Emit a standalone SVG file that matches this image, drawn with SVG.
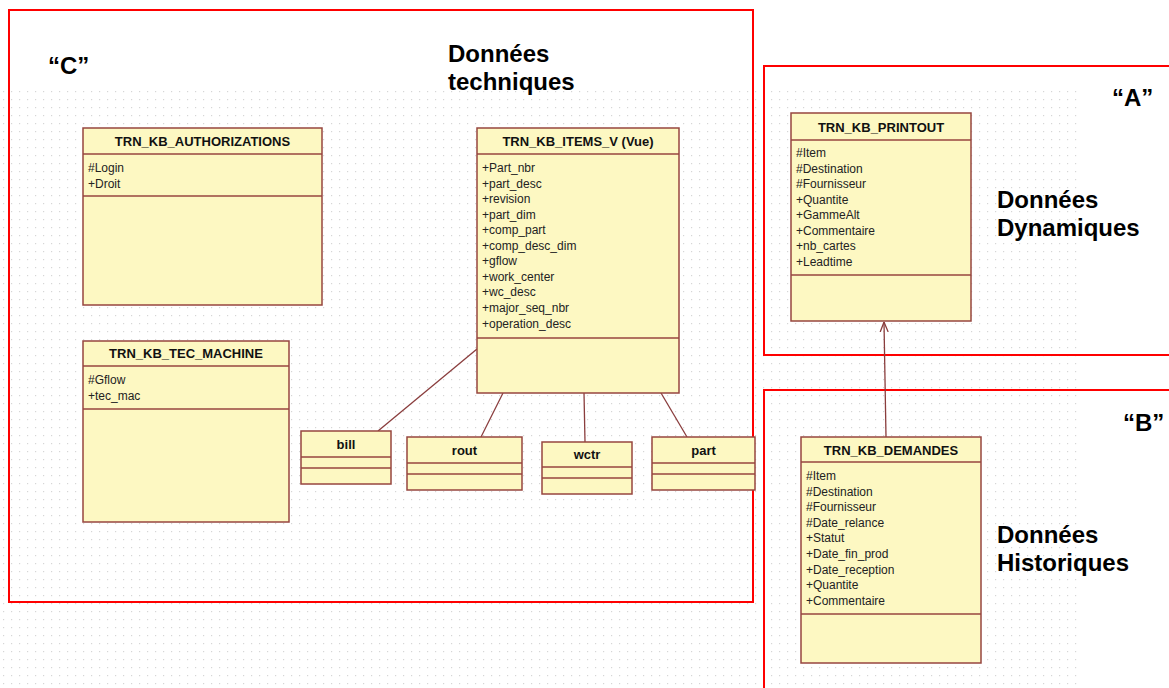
<svg xmlns="http://www.w3.org/2000/svg" width="1169" height="688" viewBox="0 0 1169 688">
<style>
.box{fill:#fdf8c2;stroke:#97463f;stroke-width:1.5}
.div{stroke:#97463f;stroke-width:1.5;fill:none}
.hdr{font-family:"Liberation Sans",Arial,sans-serif;font-weight:bold;font-size:13px;fill:#111;text-anchor:middle}
.att{font-family:"Liberation Sans",Arial,sans-serif;font-size:12px;fill:#222}
.big{font-family:"Liberation Sans",Arial,sans-serif;font-weight:bold;font-size:24px;fill:#000}
.frame{fill:none;stroke:#ff0000;stroke-width:2}
.conn{stroke:#8a3d3d;stroke-width:1.3;fill:none}
</style>
<defs>
<pattern id="grid" x="0" y="88" width="8" height="8" patternUnits="userSpaceOnUse">
<rect x="3" y="3" width="1.2" height="1.2" fill="#d6d6d6"/>
</pattern>
<marker id="open" viewBox="0 0 10 10" refX="10" refY="5" markerWidth="10" markerHeight="10" markerUnits="userSpaceOnUse" orient="auto">
<path d="M0,1 L10,5 L0,9" fill="none" stroke="#8a3d3d" stroke-width="1.3"/>
</marker>
</defs>
<rect x="0" y="0" width="1169" height="688" fill="#ffffff"/>
<rect x="0" y="88" width="1082" height="600" fill="url(#grid)"/>
<g id="frames">
<rect class="frame" x="9" y="10" width="744" height="592"/>
<path class="frame" d="M1170,66 H764 V355 H1170"/>
<path class="frame" d="M1170,390 H764 V690"/>
</g>
<g id="labels">
<text class="big" x="48" y="74">“C”</text>
<text class="big" x="448" y="62">Données</text>
<text class="big" x="448" y="90">techniques</text>
<text class="big" x="1112" y="106">“A”</text>
<text class="big" x="997" y="208">Données</text>
<text class="big" x="997" y="236">Dynamiques</text>
<text class="big" x="1123" y="431">“B”</text>
<text class="big" x="997" y="543">Données</text>
<text class="big" x="997" y="571">Historiques</text>
</g>
<g id="connectors">
<line class="conn" x1="477" y1="349" x2="378" y2="431"/>
<line class="conn" x1="503" y1="393" x2="481" y2="437"/>
<line class="conn" x1="584" y1="393" x2="585" y2="442"/>
<line class="conn" x1="661" y1="393" x2="687" y2="437"/>
<line class="conn" x1="886" y1="437" x2="884" y2="322" marker-end="url(#open)"/>
</g>
<g id="authorizations">
<rect class="box" x="83" y="128" width="239" height="177"/>
<line class="div" x1="83" y1="154" x2="322" y2="154"/>
<line class="div" x1="83" y1="196" x2="322" y2="196"/>
<text class="hdr" x="202.5" y="145.5">TRN_KB_AUTHORIZATIONS</text>
<text class="att" x="88" y="172">#Login</text>
<text class="att" x="88" y="187.5">+Droit</text>
</g>
<g id="tec_machine">
<rect class="box" x="83" y="341" width="206" height="181"/>
<line class="div" x1="83" y1="366" x2="289" y2="366"/>
<line class="div" x1="83" y1="409" x2="289" y2="409"/>
<text class="hdr" x="186" y="357.5">TRN_KB_TEC_MACHINE</text>
<text class="att" x="88" y="384">#Gflow</text>
<text class="att" x="88" y="400">+tec_mac</text>
</g>
<g id="items_v">
<rect class="box" x="477" y="128" width="202" height="265"/>
<line class="div" x1="477" y1="154" x2="679" y2="154"/>
<line class="div" x1="477" y1="338" x2="679" y2="338"/>
<text class="hdr" x="578" y="145.5">TRN_KB_ITEMS_V (Vue)</text>
<text class="att" x="482" y="172">+Part_nbr</text>
<text class="att" x="482" y="187.5">+part_desc</text>
<text class="att" x="482" y="203">+revision</text>
<text class="att" x="482" y="218.5">+part_dim</text>
<text class="att" x="482" y="234">+comp_part</text>
<text class="att" x="482" y="249.5">+comp_desc_dim</text>
<text class="att" x="482" y="265">+gflow</text>
<text class="att" x="482" y="280.5">+work_center</text>
<text class="att" x="482" y="296">+wc_desc</text>
<text class="att" x="482" y="312">+major_seq_nbr</text>
<text class="att" x="482" y="328">+operation_desc</text>
</g>
<g id="bill">
<rect class="box" x="301" y="431" width="90" height="53"/>
<line class="div" x1="301" y1="457" x2="391" y2="457"/>
<line class="div" x1="301" y1="468" x2="391" y2="468"/>
<text class="hdr" x="346" y="449">bill</text>
</g>
<g id="rout">
<rect class="box" x="407" y="437" width="115" height="53"/>
<line class="div" x1="407" y1="463" x2="522" y2="463"/>
<line class="div" x1="407" y1="474" x2="522" y2="474"/>
<text class="hdr" x="464.5" y="455">rout</text>
</g>
<g id="wctr">
<rect class="box" x="542" y="442" width="90" height="52"/>
<line class="div" x1="542" y1="467" x2="632" y2="467"/>
<line class="div" x1="542" y1="478" x2="632" y2="478"/>
<text class="hdr" x="587" y="459">wctr</text>
</g>
<g id="part">
<rect class="box" x="652" y="437" width="103" height="53"/>
<line class="div" x1="652" y1="463" x2="755" y2="463"/>
<line class="div" x1="652" y1="474" x2="755" y2="474"/>
<text class="hdr" x="703.5" y="455">part</text>
</g>
<g id="printout">
<rect class="box" x="791" y="113" width="180" height="208"/>
<line class="div" x1="791" y1="140" x2="971" y2="140"/>
<line class="div" x1="791" y1="275" x2="971" y2="275"/>
<text class="hdr" x="881" y="131.5">TRN_KB_PRINTOUT</text>
<text class="att" x="796" y="157">#Item</text>
<text class="att" x="796" y="172.5">#Destination</text>
<text class="att" x="796" y="188">#Fournisseur</text>
<text class="att" x="796" y="204">+Quantite</text>
<text class="att" x="796" y="219">+GammeAlt</text>
<text class="att" x="796" y="235">+Commentaire</text>
<text class="att" x="796" y="250">+nb_cartes</text>
<text class="att" x="796" y="266">+Leadtime</text>
</g>
<g id="demandes">
<rect class="box" x="801" y="437" width="180" height="226"/>
<line class="div" x1="801" y1="462" x2="981" y2="462"/>
<line class="div" x1="801" y1="614" x2="981" y2="614"/>
<text class="hdr" x="891" y="454.5">TRN_KB_DEMANDES</text>
<text class="att" x="806" y="480">#Item</text>
<text class="att" x="806" y="495.5">#Destination</text>
<text class="att" x="806" y="511">#Fournisseur</text>
<text class="att" x="806" y="527">#Date_relance</text>
<text class="att" x="806" y="542">+Statut</text>
<text class="att" x="806" y="558">+Date_fin_prod</text>
<text class="att" x="806" y="573.5">+Date_reception</text>
<text class="att" x="806" y="589">+Quantite</text>
<text class="att" x="806" y="604.5">+Commentaire</text>
</g>
</svg>
